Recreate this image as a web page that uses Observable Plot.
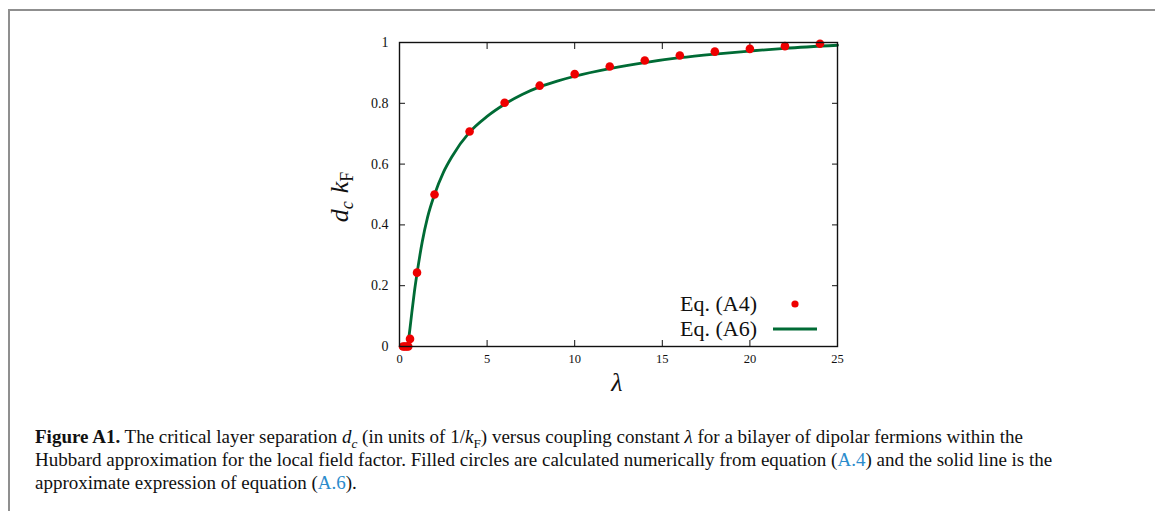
<!DOCTYPE html>
<html>
<head>
<meta charset="utf-8">
<script src="https://cdn.jsdelivr.net/npm/d3@7"></script>
<script src="https://cdn.jsdelivr.net/npm/@observablehq/plot@0.6"></script>
<style>
  html, body { margin: 0; padding: 0; background: #fff; }
  #wrap { position: relative; width: 1155px; height: 511px; overflow: hidden; }
  #border { position: absolute; left: 8px; top: 9px; width: 1200px; height: 600px;
            border-left: 2px solid #8f8f8f; border-top: 2px solid #8f8f8f; }
  #chart { position: absolute; left: 0; top: 0; }
  #chart svg text { font-family: "Liberation Serif", serif !important; }
  #caption { position: absolute; left: 35px; top: 425px; width: 1110px;
             font-family: "Liberation Serif", serif; font-size: 19px; line-height: 23px; color: #111; }
  #caption .ln { white-space: nowrap; }
  #caption a { color: #2b8ccc; text-decoration: none; }
  sub { font-size: 70%; line-height: 0; }
</style>
</head>
<body>
<div id="wrap">
  <div id="border"></div>
  <div id="chart"></div>
  <div id="caption">
    <div class="ln"><b>Figure A1.</b> The critical layer separation <i>d<sub>c</sub></i> (in units of 1/<i>k</i><sub>F</sub>) versus coupling constant <i>λ</i> for a bilayer of dipolar fermions within the</div>
    <div class="ln">Hubbard approximation for the local field factor. Filled circles are calculated numerically from equation (<a>A.4</a>) and the solid line is the</div>
    <div class="ln">approximate expression of equation (<a>A.6</a>).</div>
  </div>
</div>
<script>
// Eq. (A4): numerical points
const pointLambda = [0.2, 0.3, 0.4, 0.5, 0.6, 1, 2, 4, 6, 8, 10, 12, 14, 16, 18, 20, 22, 24];
const pointDc     = [0, 0, 0, 0, 0.025, 0.243, 0.50, 0.707, 0.802, 0.858, 0.896, 0.921, 0.941, 0.957, 0.970, 0.979, 0.988, 0.996];
// Eq. (A6): approximate expression
const lineLambda = [0.47, 0.6, 0.7, 0.85, 1.0, 1.3, 1.6, 2, 2.5, 3, 4, 5, 6, 7, 8, 9, 10, 12, 14, 16, 18, 20, 22, 25];
const lineDc     = [0, 0.06, 0.11, 0.18, 0.24, 0.345, 0.425, 0.5, 0.572, 0.625, 0.705, 0.757, 0.797, 0.829, 0.854, 0.873, 0.889, 0.914, 0.934, 0.950, 0.962, 0.972, 0.981, 0.991];
// Axes
const xTicks = [0, 5, 10, 15, 20, 25];
const yTicks = [0, 0.2, 0.4, 0.6, 0.8, 1];
const legendLabels = ["Eq. (A4)", "Eq. (A6)"];

const points = pointLambda.map((x, i) => ({x, y: pointDc[i]}));
const curve = lineLambda.map((x, i) => ({x, y: lineDc[i]}));

const font = "Liberation Serif, serif";
const W = 1155, H = 400;
const chart = Plot.plot({
  width: W, height: H,
  marginLeft: 399, marginRight: 318, marginTop: 42, marginBottom: 54,
  style: {fontFamily: font, background: "transparent", color: "#111"},
  x: {domain: [0, 25]},
  y: {domain: [0, 1]},
  marks: [
    // inward ticks on all four sides
    Plot.axisX({anchor: "bottom", ticks: xTicks, tickSize: 6, dy: -6, tickFormat: () => "", label: null}),
    Plot.axisX({anchor: "top", ticks: xTicks, tickSize: 6, dy: 6, tickFormat: () => "", label: null}),
    Plot.axisY({anchor: "left", ticks: yTicks, tickSize: 6, dx: 6, tickFormat: () => "", label: null}),
    Plot.axisY({anchor: "right", ticks: yTicks, tickSize: 6, dx: -6, tickFormat: () => "", label: null}),
    // labels
    Plot.axisX({anchor: "bottom", ticks: xTicks, tickSize: 0, tickPadding: 8, fontSize: 12.5,
                fontFamily: font, label: null, ariaLabel: "xlabels"}),
    Plot.axisY({anchor: "left", ticks: yTicks, tickSize: 0, tickPadding: 11, fontSize: 14,
                fontFamily: font, label: null, ariaLabel: "ylabels", tickFormat: d => d3.format("~g")(d)}),
    Plot.line(curve, {x: "x", y: "y", stroke: "#006b35", strokeWidth: 2.8, curve: "monotone-x"}),
    Plot.dot(points, {x: "x", y: "y", r: 4.3, fill: "#ee0000", stroke: "none"}),
    Plot.frame({stroke: "#111", strokeWidth: 1.4})
  ]
});
document.getElementById("chart").appendChild(chart);

const svg = d3.select(chart);
svg.selectAll("text").style("font-family", font);
// tick label sizes (x labels a bit smaller than y labels, as in the reference)
svg.selectAll("g").filter(function() {
  const a = this.getAttribute("aria-label") || "";
  return a.includes("x-axis tick label") || a === "xlabels";
}).selectAll("text").style("font-size", "12.5px");
svg.selectAll("g").filter(function() {
  const a = this.getAttribute("aria-label") || "";
  return a.includes("y-axis tick label") || a === "ylabels";
}).selectAll("text").style("font-size", "14px");

// y-axis label d_c k_F
const yl = svg.append("text")
  .attr("transform", "translate(348,197) rotate(-90)")
  .attr("text-anchor", "middle")
  .style("font-family", font).style("font-size", "26px").attr("fill", "#111");
yl.append("tspan").style("font-style", "italic").text("d");
yl.append("tspan").style("font-style", "italic").style("font-size", "18px").attr("dy", 5).text("c");
yl.append("tspan").style("font-style", "italic").attr("dy", -5).attr("dx", 8).text("k");
yl.append("tspan").style("font-size", "18px").attr("dy", 5).text("F");

// x-axis label λ
svg.append("text").attr("x", 617).attr("y", 391).attr("text-anchor", "middle")
  .style("font-family", font).style("font-size", "26px").style("font-style", "italic")
  .attr("fill", "#111").text("λ");

// legend
const lg = svg.append("g").style("font-family", font).style("font-size", "22px").attr("fill", "#111");
lg.append("text").attr("x", 757).attr("y", 303).attr("dy", "0.35em").attr("text-anchor", "end").text(legendLabels[0]);
lg.append("text").attr("x", 757).attr("y", 328).attr("dy", "0.35em").attr("text-anchor", "end").text(legendLabels[1]);
lg.append("circle").attr("cx", 795).attr("cy", 304).attr("r", 3.6).attr("fill", "#ee0000");
lg.append("line").attr("x1", 773).attr("x2", 817).attr("y1", 329).attr("y2", 329)
  .attr("stroke", "#006b35").attr("stroke-width", 2.8);
</script>
</body>
</html>
